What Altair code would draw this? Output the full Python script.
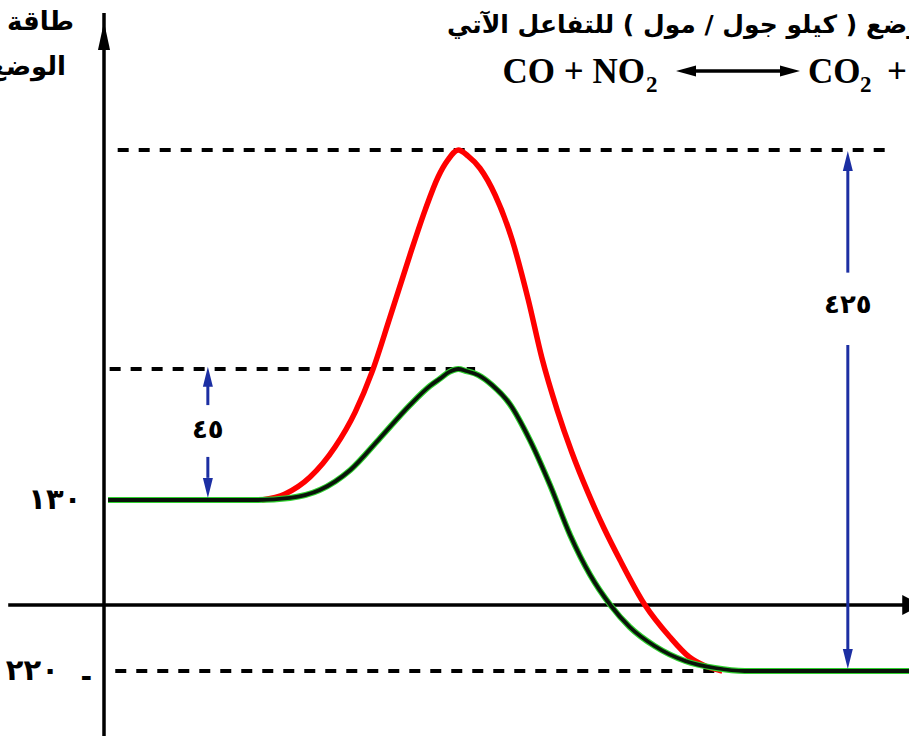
import altair as alt
import pandas as pd

# Potential energy (kJ/mol) along the reaction path of CO + NO2 -> CO2 + NO

# path without catalyst (red)
progress_uncat = [19.6, 22.5, 25.6, 28.7, 31.2, 33.3, 35.5, 38.0, 39.9, 41.5, 42.7, 44.0,
                  45.2, 46.7, 48.6, 50.7, 52.7, 54.4, 56.3, 58.1, 60.1, 62.1, 64.1, 67.2,
                  70.3, 72.7, 74.7, 76.8]
energy_uncat = [130, 132.1, 137.9, 148.2, 160.2, 174.0, 182.0, 190.6, 196.8, 201.3, 203.6, 205,
                204.2, 202.5, 198.8, 192.7, 184.5, 176.5, 160.9, 146.5, 132.7, 95.3, 55.7, 0,
                -106.7, -173.3, -203.3, -220]

# path with catalyst (green)
progress_cat = [0.5, 19.1, 23.1, 26.8, 30.6, 34.3, 38.0, 40.5, 41.7, 42.9, 44.0, 45.0, 46.5,
                48.2, 50.4, 52.9, 55.4, 57.9, 60.4, 62.9, 65.3, 68.4, 72.2, 75.9, 79.6, 100]
energy_cat = [130, 130, 130.7, 133.4, 140.3, 151.3, 162.6, 169.2, 171.6, 174.0, 175, 174.3, 172.9,
              169.5, 163.0, 150.6, 135.2, 86.7, 37.1, 0, -73.3, -136.7, -186.7, -210, -220, -220]

# dashed reference levels
level_energy = [205, 175, -220]
level_from = [1.7, 0.7, 1.4]
level_to = [97.0, 46.1, 76.4]

# energy ticks written on the left
tick_energy = [130, -220]
tick_labels = ["١٣٠", "٢٢٠"]

# energy gaps shown with double arrows (45 and 425 kJ/mol)
gap_labels = ["٤٥", "٤٢٥"]
gap_progress = [12.9, 92.4]
gap_label_energy = [154.0, 183.8]
gap_upper_from = [169.5, 202.3]
gap_upper_to = [162.6, 188.2]
gap_lower_from = [144.8, 178.3]
gap_lower_to = [137.6, -150]
gap_head_up = [172.3, 203.5]
gap_head_down = [134.1, -180]

# the drawing is not to scale: piecewise energy axis
energy_breaks = [-440, -220, 0, 130, 175, 205, 224]
energy_pixels = [737, 671, 605, 500, 369, 150, 13]

X = alt.Scale(domain=[0, 100], range=[104, 909], nice=False, zero=False)
Y = alt.Scale(domain=energy_breaks, range=energy_pixels, nice=False, zero=False)

BLUE = "#1c2fa3"
AR_FONT = "DejaVu Sans"
LAT_FONT = "Liberation Serif"
TRI_UP = "M0,-1L0.5,1L-0.5,1Z"
TRI_DOWN = "M0,1L0.5,-1L-0.5,-1Z"


def xq(field):
    return alt.X(field, type="quantitative", scale=X, axis=None)


def yq(field):
    return alt.Y(field, type="quantitative", scale=Y, axis=None)


uncat = pd.DataFrame({"progress": progress_uncat, "energy": energy_uncat})
cat = pd.DataFrame({"progress": progress_cat, "energy": energy_cat})
levels = pd.DataFrame({"energy": level_energy, "x0": level_from, "x1": level_to})
ticks = pd.DataFrame({"energy": tick_energy, "label": tick_labels})
gaps = pd.DataFrame({
    "progress": gap_progress, "label": gap_labels, "label_energy": gap_label_energy,
    "u0": gap_upper_from, "u1": gap_upper_to, "l0": gap_lower_from, "l1": gap_lower_to,
    "hu": gap_head_up, "hd": gap_head_down,
})
axes_h = pd.DataFrame({"energy": [0], "x0": [-11.9], "x1": [100.0], "tip": [100.4]})
axes_v = pd.DataFrame({"progress": [0], "y0": [-440], "y1": [224], "tip": [220.8]})
one = pd.DataFrame({"k": [0]})

layers = []

# dashed levels
layers.append(alt.Chart(levels).mark_rule(color="black", strokeWidth=4, strokeDash=[11, 10]).encode(
    x=xq("x0"), x2="x1", y=yq("energy")))

# axes
layers.append(alt.Chart(axes_h).mark_rule(color="black", strokeWidth=3.5).encode(
    x=xq("x0"), x2="x1", y=yq("energy")))
layers.append(alt.Chart(axes_v).mark_rule(color="black", strokeWidth=3.5).encode(
    x=xq("progress"), y=yq("y0"), y2="y1"))
layers.append(alt.Chart(axes_h).mark_point(shape="M-1,-1L1,0L-1,1Z", filled=True, opacity=1,
                                           size=400, color="black", strokeWidth=0).encode(
    x=xq("tip"), y=yq("energy")))
layers.append(alt.Chart(axes_v).mark_point(shape="M0,-1L0.43,1L-0.43,1Z", filled=True, opacity=1,
                                           size=784, color="black", strokeWidth=0).encode(
    x=xq("progress"), y=yq("tip")))

# reaction curves
layers.append(alt.Chart(uncat).mark_line(color="#ff0000", strokeWidth=5.5, interpolate="monotone").encode(
    x=xq("progress"), y=yq("energy")))
layers.append(alt.Chart(cat).mark_line(color="#2fd12f", strokeWidth=6, interpolate="monotone").encode(
    x=xq("progress"), y=yq("energy")))
layers.append(alt.Chart(cat).mark_line(color="#0a140a", strokeWidth=3.8, interpolate="monotone").encode(
    x=xq("progress"), y=yq("energy")))

# gap arrows
layers.append(alt.Chart(gaps).mark_rule(color=BLUE, strokeWidth=3).encode(
    x=xq("progress"), y=yq("u0"), y2="u1"))
layers.append(alt.Chart(gaps).mark_rule(color=BLUE, strokeWidth=3).encode(
    x=xq("progress"), y=yq("l0"), y2="l1"))
layers.append(alt.Chart(gaps).mark_point(shape=TRI_UP, filled=True, opacity=1, size=400,
                                         color=BLUE, strokeWidth=0).encode(
    x=xq("progress"), y=yq("hu")))
layers.append(alt.Chart(gaps).mark_point(shape=TRI_DOWN, filled=True, opacity=1, size=400,
                                         color=BLUE, strokeWidth=0).encode(
    x=xq("progress"), y=yq("hd")))
layers.append(alt.Chart(gaps).mark_text(font=AR_FONT, fontWeight="bold", fontSize=26,
                                        baseline="middle", color="black").encode(
    x=xq("progress"), y=yq("label_energy"), text="label:N"))

# energy tick labels
layers.append(alt.Chart(ticks).mark_text(font=AR_FONT, fontWeight="bold", fontSize=29,
                                         baseline="middle", align="center", color="black").encode(
    x=alt.X("lx:Q", scale=X, axis=None), y=yq("energy"), text="label:N").transform_calculate(
    lx="datum.energy > 0 ? -6.1 : -8.9"))
layers.append(alt.Chart(ticks).transform_filter("datum.energy < 0").mark_text(
    font=AR_FONT, fontWeight="bold", fontSize=28, baseline="middle", align="center", dy=7,
    color="black", text="-").encode(
    x=alt.X("mx:Q", scale=X, axis=None), y=yq("energy")).transform_calculate(mx="-2.2"))


# headings
def label(txt, x, y, size, align, font=AR_FONT, baseline="middle"):
    return alt.Chart(one).mark_text(font=font, fontWeight="bold", fontSize=size, align=align,
                                    baseline=baseline, color="black").encode(
        x=alt.value(x), y=alt.value(y), text=alt.value(txt))


layers.append(label("طاقة", 74, 22, 26, "right"))
layers.append(label("الوضع", 66, 67, 26, "right"))
layers.append(label("طاقة الوضع ( كيلو جول / مول ) للتفاعل الآتي", 447, 25, 25, "left"))

# equation CO + NO2 <-> CO2 + NO
layers.append(label("CO + NO", 645, 83, 35, "right", LAT_FONT, "alphabetic"))
layers.append(label("2", 646, 92, 23, "left", LAT_FONT, "alphabetic"))
layers.append(label("CO", 808, 83, 35, "left", LAT_FONT, "alphabetic"))
layers.append(label("2", 860, 92, 23, "left", LAT_FONT, "alphabetic"))
layers.append(label("+ NO", 887, 83, 35, "left", LAT_FONT, "alphabetic"))
layers.append(alt.Chart(one).mark_rule(color="black", strokeWidth=3.5).encode(
    x=alt.value(684), x2=alt.value(790), y=alt.value(71)))
layers.append(alt.Chart(one).mark_point(shape="M-1,0L1,-0.55L1,0.55Z", filled=True, opacity=1,
                                        size=400, color="black", strokeWidth=0).encode(
    x=alt.value(686), y=alt.value(71)))
layers.append(alt.Chart(one).mark_point(shape="M1,0L-1,-0.55L-1,0.55Z", filled=True, opacity=1,
                                        size=400, color="black", strokeWidth=0).encode(
    x=alt.value(790), y=alt.value(71)))

chart = alt.layer(*layers).properties(
    width=909, height=736, padding=0, autosize=alt.AutoSizeParams(type="none"),
    background="white",
).configure_view(stroke=None)

chart.save("out.html", embed_options={"renderer": "svg", "actions": False})
